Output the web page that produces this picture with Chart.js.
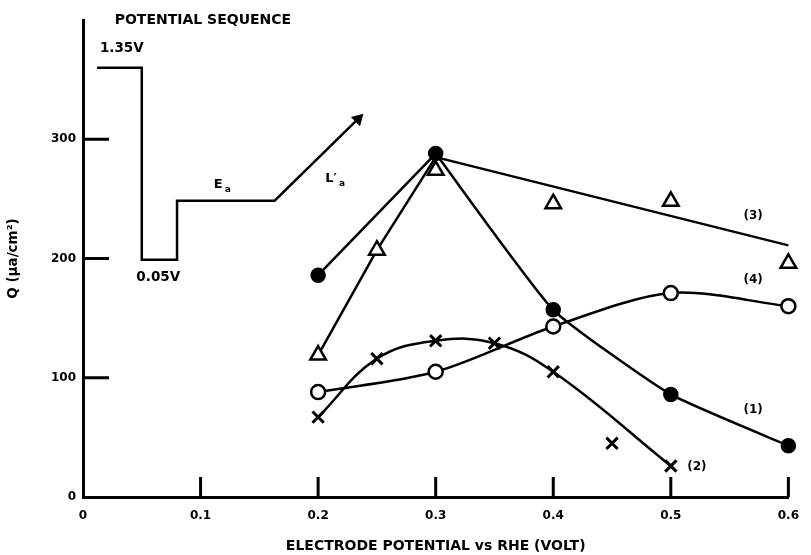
<!DOCTYPE html>
<html>
<head>
<meta charset="utf-8">
<script src="https://cdn.jsdelivr.net/npm/chart.js@4/dist/chart.umd.min.js"></script>
<style>
  body { margin: 0; background: #fff; }
  #wrap { width: 811px; height: 555px; position: relative; }
</style>
</head>
<body>
<div id="wrap"><canvas id="chart"></canvas></div>
<script>
// curve (1) filled circles
var curve1X = [0.2, 0.3, 0.4, 0.5, 0.6];
var curve1Q = [186, 288, 157, 86, 43];
// curve (2) crosses, plus one point off the curve
var curve2X = [0.2, 0.25, 0.3, 0.35, 0.4, 0.5];
var curve2Q = [67, 116, 131, 129, 105, 26];
var curve2OffX = [0.45];
var curve2OffQ = [45];
// curve (3) triangles and its drawn line
var curve3X = [0.2, 0.25, 0.3, 0.4, 0.5, 0.6];
var curve3Q = [119, 207, 274, 246, 248, 196];
var line3X = [0.2, 0.25, 0.3, 0.6];
var line3Q = [119, 207, 285, 211];
// curve (4) open circles
var curve4X = [0.2, 0.3, 0.4, 0.5, 0.6];
var curve4Q = [88, 105, 143, 171, 160];
// potential sequence sketch (in axis units)
var seqX = [0.012, 0.05, 0.05, 0.08, 0.08, 0.163, 0.234];
var seqQ = [360, 360, 199, 199, 248.5, 248.5, 317];

var xTicks = [0.1, 0.2, 0.3, 0.4, 0.5, 0.6];
var yTicks = [100, 200, 300];

var notes = [
    { text: "POTENTIAL SEQUENCE", x: 0.102, y: 400, align: "center", size: 14 },
    { text: "1.35V", x: 0.033, y: 376, align: "center", size: 13.5 },
    { text: "0.05V", x: 0.064, y: 184, align: "center", size: 13.5 },
    { text: "E", x: 0.115, y: 262, align: "center", size: 13, sub: "a" },
    { text: "L\u2032", x: 0.211, y: 267, align: "center", size: 13, sub: "a" },
    { text: "(3)", x: 0.570, y: 236, align: "center", size: 12 },
    { text: "(4)", x: 0.570, y: 182, align: "center", size: 12 },
    { text: "(1)", x: 0.570, y: 73, align: "center", size: 12 },
    { text: "(2)", x: 0.514, y: 25, align: "left", size: 12 }
];

var FONT = "'DejaVu Sans', sans-serif";

function pts(xs, ys) {
    return xs.map((x, i) => ({ x: x, y: ys[i] }));
}

var extras = {
    id: 'extras',
    afterDraw(chart) {
        var ctx = chart.ctx;
        var xs = chart.scales.x, ys = chart.scales.y;
        var x0 = xs.getPixelForValue(0), y0 = ys.getPixelForValue(0);
        ctx.save();
        ctx.strokeStyle = '#000';
        ctx.lineWidth = 3;
        // inward tick marks
        yTicks.forEach((v) => {
            var py = ys.getPixelForValue(v);
            ctx.beginPath();
            ctx.moveTo(x0, py);
            ctx.lineTo(x0 + 26, py);
            ctx.stroke();
        });
        xTicks.forEach((v) => {
            var px = xs.getPixelForValue(v);
            ctx.beginPath();
            ctx.moveTo(px, y0);
            ctx.lineTo(px, y0 - 20);
            ctx.stroke();
        });
        // text notes
        ctx.fillStyle = '#000';
        ctx.textBaseline = 'middle';
        notes.forEach((n) => {
            var px = xs.getPixelForValue(n.x), py = ys.getPixelForValue(n.y);
            ctx.font = "bold " + n.size + "px " + FONT;
            ctx.textAlign = n.align;
            ctx.fillText(n.text, px, py);
            if (n.sub) {
                var w = ctx.measureText(n.text).width;
                ctx.font = "bold 9px " + FONT;
                ctx.textAlign = 'left';
                ctx.fillText(n.sub, px + w / 2 + 2, py + 5);
            }
        });
        ctx.restore();
    }
};

var base = { borderColor: '#000', borderWidth: 2.5, clip: false };

new Chart(document.getElementById("chart"), {
    type: 'scatter',
    data: {
        datasets: [
            Object.assign({}, base, {
                label: "sequence",
                data: pts(seqX, seqQ),
                showLine: true,
                backgroundColor: '#000',
                pointStyle: 'triangle',
                pointRadius: seqX.map((v, i) => i == seqX.length - 1 ? 5 : 0),
                pointRotation: 45,
                tension: 0
            }),
            Object.assign({}, base, {
                label: "(1)",
                data: pts(curve1X, curve1Q),
                showLine: false,
                backgroundColor: '#000',
                pointRadius: 6.5,
                pointStyle: 'circle'
            }),
            Object.assign({}, base, {
                label: "(1) rise",
                data: pts(curve1X.slice(0, 2), curve1Q.slice(0, 2)),
                showLine: true,
                pointRadius: 0,
                tension: 0
            }),
            Object.assign({}, base, {
                label: "(1) fall",
                data: pts(curve1X.slice(1), curve1Q.slice(1)),
                showLine: true,
                pointRadius: 0,
                tension: 0.15
            }),
            Object.assign({}, base, {
                label: "(2)",
                data: pts(curve2X, curve2Q),
                showLine: true,
                backgroundColor: '#000',
                borderWidth: 2.5,
                pointBorderWidth: 3,
                pointRadius: 8,
                pointStyle: 'crossRot',
                tension: 0.4
            }),
            Object.assign({}, base, {
                label: "(2) off",
                data: pts(curve2OffX, curve2OffQ),
                showLine: false,
                pointBorderWidth: 3,
                pointRadius: 8,
                pointStyle: 'crossRot'
            }),
            Object.assign({}, base, {
                label: "(3)",
                data: pts(curve3X, curve3Q),
                showLine: false,
                backgroundColor: '#fff',
                pointRadius: 9,
                pointStyle: 'triangle'
            }),
            Object.assign({}, base, {
                label: "(3) line",
                data: pts(line3X, line3Q),
                showLine: true,
                pointRadius: 0,
                tension: 0
            }),
            Object.assign({}, base, {
                label: "(4)",
                data: pts(curve4X, curve4Q),
                showLine: true,
                backgroundColor: '#fff',
                pointRadius: 7,
                pointStyle: 'circle',
                tension: 0.3
            })
        ]
    },
    options: {
        responsive: true,
        maintainAspectRatio: false,
        animation: false,
        layout: { padding: { top: 20, right: 13, left: 0, bottom: 0 } },
        plugins: {
            legend: { display: false },
            tooltip: { enabled: false }
        },
        scales: {
            x: {
                min: 0,
                max: 0.6,
                grid: { display: false, drawTicks: false },
                border: { display: true, color: '#000', width: 3 },
                ticks: {
                    stepSize: 0.1,
                    padding: 12,
                    color: '#000',
                    font: { family: FONT, size: 12, weight: 'bold' }
                },
                title: {
                    display: true,
                    text: "ELECTRODE POTENTIAL vs RHE (VOLT)",
                    color: '#000',
                    padding: { top: 4, bottom: 0 },
                    font: { family: FONT, size: 14, weight: 'bold' }
                },
                afterFit: (scale) => { scale.height = 58; }
            },
            y: {
                min: 0,
                max: 400,
                grid: { display: false, drawTicks: false },
                border: { display: true, color: '#000', width: 3 },
                ticks: {
                    stepSize: 100,
                    padding: 7,
                    color: '#000',
                    font: { family: FONT, size: 12, weight: 'bold' },
                    callback: (v) => v == 400 ? '' : v
                },
                title: {
                    display: true,
                    text: "Q (\u03bca/cm\u00b2)",
                    color: '#000',
                    padding: { top: 5, bottom: 0 },
                    font: { family: FONT, size: 13.5, weight: 'bold' }
                },
                afterFit: (scale) => { scale.width = 83; }
            }
        }
    },
    plugins: [extras]
});
</script>
</body>
</html>
